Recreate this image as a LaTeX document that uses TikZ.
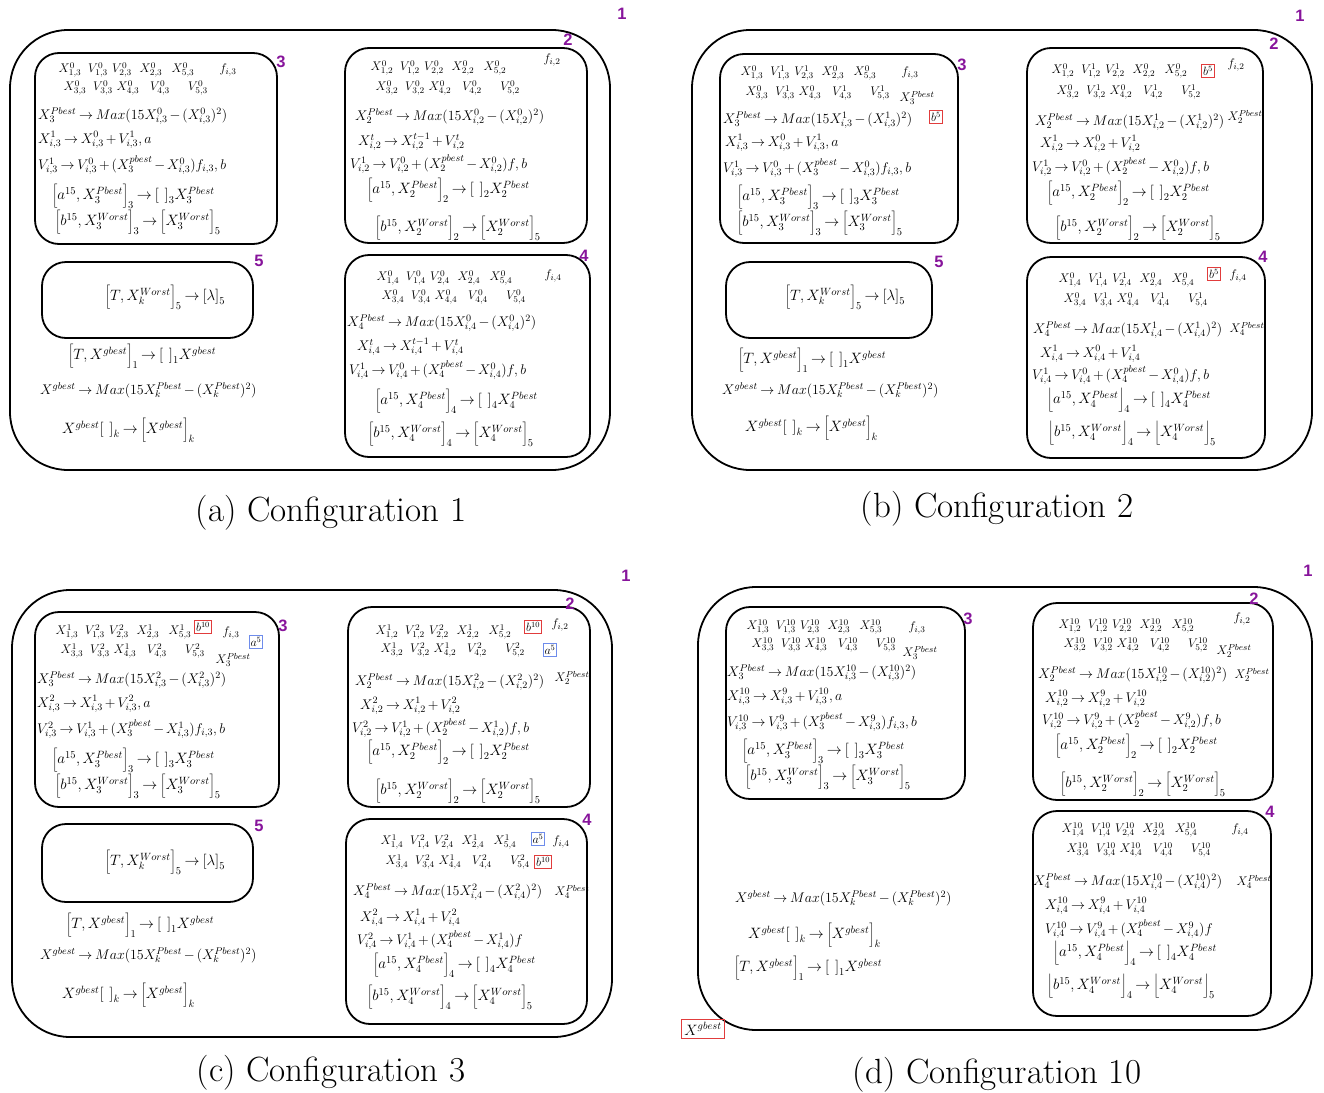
\RequirePackage{fix-cm}
\documentclass[tikz,border=0pt]{standalone}
\usepackage{fontspec}
\newfontfamily\tagfont{Liberation Sans}
\definecolor{tagpurple}{RGB}{135,20,155}
\definecolor{markred}{RGB}{225,60,60}
\definecolor{markblue}{RGB}{110,140,235}
\newcommand\tightmath{\medmuskip=2.5mu\thickmuskip=3.5mu}
\tikzset{
  panel/.style={draw, line width=1.8pt, rounded corners=58pt},
  cell/.style={draw, line width=1.8pt, rounded corners=24pt},
  sm/.style={inner sep=0pt, font=\fontsize{12.5}{14}\selectfont},
  eq/.style={anchor=west, inner sep=0pt, font=\fontsize{14}{16}\selectfont\tightmath},
  eqv/.style={anchor=west, inner sep=0pt, font=\fontsize{14}{16}\selectfont\tightmath},
  br/.style={anchor=west, inner sep=0pt, font=\fontsize{15}{18}\selectfont\tightmath},
  num/.style={inner sep=0pt, text=tagpurple, font=\tagfont\bfseries\fontsize{16.5}{18}\selectfont},
  captext/.style={inner sep=0pt, font=\fontsize{35}{40}\selectfont},
  redmark/.style={draw=markred, line width=1pt, inner sep=1.5pt, font=\fontsize{12}{14}\selectfont},
  bluemark/.style={draw=markblue, line width=1pt, inner sep=1.5pt, font=\fontsize{12}{14}\selectfont}
}
% two rows of particle positions / velocities of one swarm
% #1 prefix, #2 x of first entry, #3 y of row 1, #4 y of row 2, #5 swarm, #6 X iteration, #7 V iteration
\newcommand\smgrid[7]{%
  \foreach \dx/\t [count=\n] in {0/{X_{1,#5}^{#6}},28/{V_{1,#5}^{#7}},52/{V_{2,#5}^{#7}},81/{X_{2,#5}^{#6}},113/{X_{5,#5}^{#6}}}
    {\node[sm] (#1u\n) at ({#2+\dx},#3) {$\t$};}
  \foreach \dx/\t [count=\n] in {5/{X_{3,#5}^{#6}},33/{V_{3,#5}^{#7}},58/{X_{4,#5}^{#6}},90/{V_{4,#5}^{#7}},128/{V_{5,#5}^{#7}}}
    {\node[sm] (#1d\n) at ({#2+\dx},#4) {$\t$};}
}
\newcommand\pmove[3]{\bigg#2 a^{15}, X_{#1}^{Pbest}\bigg#3_{#1} \to \Big[\;\;\Big]_{#1} X_{#1}^{Pbest}}
\newcommand\wmove[3]{\bigg#2 b^{15}, X_{#1}^{Worst}\bigg#3_{#1} \to \bigg#2 X_{#1}^{Worst}\bigg#3_{5}}
\newcommand\tmove{\bigg[T, X_k^{Worst}\bigg]_5 \to \Big[\lambda\Big]_5}
\newcommand\gmove{\bigg[T, X^{gbest}\bigg]_1 \to \Big[\;\;\Big]_1 X^{gbest}}
\newcommand\gmax{X^{gbest} \to Max(15X_k^{Pbest} - (X_k^{Pbest})^2)}
\newcommand\gkeep{X^{gbest}\Big[\;\;\Big]_k \to \bigg[X^{gbest}\bigg]_k}
\newcommand\pmax[2]{X_{#1}^{Pbest} \to Max(15X_{i,#1}^{#2} - (X_{i,#1}^{#2})^2)}

\begin{document}
\begin{tikzpicture}[x=1pt,y=-1pt]
\useasboundingbox (0,0) rectangle (1324,1092);

% ================= Configuration 1 =================
\draw[panel] (10,30) rectangle (610,470);
\node[num] (a1) at (622,14) {1};
% swarm 3
\draw[cell] (35,53) rectangle (277,244);
\node[num] (a3n) at (281,62) {3};
\smgrid{a3}{70}{70}{88}{3}{0}{0}
\node[sm] (a3f) at (228,70) {$f_{i,3}$};
\node[eq] (a3l1) at (38,116) {$\pmax{3}{0}$};
\node[eq] (a3l2) at (38,140) {$X_{i,3}^{1} \to X_{i,3}^{0} + V_{i,3}^{1}, a$};
\node[eqv] (a3l3) at (38,165) {$V_{i,3}^{1} \to V_{i,3}^{0} + (X_3^{pbest} - X_{i,3}^{0}) f_{i,3}, b$};
\node[br] (a3l4) at (52,196) {$\pmove{3}{[}{]}$};
\node[br] (a3l5) at (55,222) {$\wmove{3}{[}{]}$};
% swarm 2
\draw[cell] (345,48) rectangle (587,243);
\node[num] (a2n) at (568,40) {2};
\smgrid{a2}{382}{68}{88}{2}{0}{0}
\node[sm] (a2f) at (552,60) {$f_{i,2}$};
\node[eq] (a2l1) at (355,117) {$\pmax{2}{0}$};
\node[eq] (a2l2) at (358,142) {$X_{i,2}^{t} \to X_{i,2}^{t-1} + V_{i,2}^{t}$};
\node[eqv] (a2l3) at (350,164) {$V_{i,2}^{1} \to V_{i,2}^{0} + (X_2^{pbest} - X_{i,2}^{0}) f, b$};
\node[br] (a2l4) at (367,190) {$\pmove{2}{[}{]}$};
\node[br] (a2l5) at (375,228) {$\wmove{2}{[}{]}$};
% swarm 5
\draw[cell] (42,262) rectangle (253,338);
\node[num] (a5n) at (259,261) {5};
\node[br, anchor=center] (a5l1) at (165,297) {$\tmove$};
\node[br] (ag1) at (68,356) {$\gmove$};
\node[eq] (ag2) at (40,390) {$\gmax$};
\node[br] (ag3) at (62,430) {$\gkeep$};
% swarm 4
\draw[cell] (345,255) rectangle (590,457);
\node[num] (a4n) at (584,256) {4};
\smgrid{a4}{388}{278}{297}{4}{0}{0}
\node[sm] (a4f) at (553,276) {$f_{i,4}$};
\node[eq] (a4l1) at (347,323) {$\pmax{4}{0}$};
\node[eq] (a4l2) at (357,347) {$X_{i,4}^{t} \to X_{i,4}^{t-1} + V_{i,4}^{t}$};
\node[eqv] (a4l3) at (349,370) {$V_{i,4}^{1} \to V_{i,4}^{0} + (X_4^{pbest} - X_{i,4}^{0}) f, b$};
\node[br] (a4l4) at (375,401) {$\pmove{4}{[}{]}$};
\node[br] (a4l5) at (368,434) {$\wmove{4}{[}{]}$};
\node[captext] (acap) at (331,513) {(a) Configuration 1};

% ================= Configuration 2 =================
\draw[panel] (692,30) rectangle (1312,470);
\node[num] (b1) at (1300,16) {1};
% swarm 3
\draw[cell] (720,54) rectangle (958,243);
\node[num] (b3n) at (962,65) {3};
\smgrid{b3}{752}{73}{93}{3}{0}{1}
\node[sm] (b3f) at (910,73) {$f_{i,3}$};
\node[sm] (b3p) at (917,98) {$X_3^{Pbest}$};
\node[redmark] (b3r) at (936,117) {$b^5$};
\node[eq] (b3l1) at (723,120) {$\pmax{3}{1}$};
\node[eq] (b3l2) at (725,143) {$X_{i,3}^{1} \to X_{i,3}^{0} + V_{i,3}^{1}, a$};
\node[eqv] (b3l3) at (723,168) {$V_{i,3}^{1} \to V_{i,3}^{0} + (X_3^{pbest} - X_{i,3}^{0}) f_{i,3}, b$};
\node[br] (b3l4) at (737,197) {$\pmove{3}{[}{]}$};
\node[br] (b3l5) at (737,223) {$\wmove{3}{[}{]}$};
% swarm 2
\draw[cell] (1027,48) rectangle (1263,243);
\node[num] (b2n) at (1274,44) {2};
\smgrid{b2}{1063}{71}{92}{2}{0}{1}
\node[sm] (b2f) at (1236,65) {$f_{i,2}$};
\node[redmark] (b2r) at (1208,71) {$b^5$};
\node[sm] (b2p) at (1245,117) {$X_2^{Pbest}$};
\node[eq] (b2l1) at (1035,122) {$\pmax{2}{1}$};
\node[eq] (b2l2) at (1040,144) {$X_{i,2}^{1} \to X_{i,2}^{0} + V_{i,2}^{1}$};
\node[eqv] (b2l3) at (1032,167) {$V_{i,2}^{1} \to V_{i,2}^{0} + (X_2^{pbest} - X_{i,2}^{0}) f, b$};
\node[br] (b2l4) at (1047,193) {$\pmove{2}{[}{]}$};
\node[br] (b2l5) at (1055,228) {$\wmove{2}{[}{]}$};
% swarm 5
\draw[cell] (726,262) rectangle (932,338);
\node[num] (b5n) at (939,262) {5};
\node[br, anchor=center] (b5l1) at (845,297) {$\tmove$};
\node[br] (bg1) at (738,360) {$\gmove$};
\node[eq] (bg2) at (722,390) {$\gmax$};
\node[br] (bg3) at (745,428) {$\gkeep$};
% swarm 4
\draw[cell] (1027,257) rectangle (1265,458);
\node[num] (b4n) at (1263,257) {4};
\smgrid{b4}{1070}{280}{300}{4}{0}{1}
\node[redmark] (b4r) at (1214,274) {$b^5$};
\node[sm] (b4f) at (1238,276) {$f_{i,4}$};
\node[sm] (b4p) at (1247,329) {$X_4^{Pbest}$};
\node[eq] (b4l1) at (1033,330) {$\pmax{4}{1}$};
\node[eq] (b4l2) at (1040,354) {$X_{i,4}^{1} \to X_{i,4}^{0} + V_{i,4}^{1}$};
\node[eqv] (b4l3) at (1032,375) {$V_{i,4}^{1} \to V_{i,4}^{0} + (X_4^{pbest} - X_{i,4}^{0}) f, b$};
\node[br] (b4l4) at (1047,400) {$\pmove{4}{\lfloor}{\rfloor}$};
\node[br] (b4l5) at (1048,433) {$\wmove{4}{\lfloor}{\rfloor}$};
\node[captext] (bcap) at (997,509) {(b) Configuration 2};

% ================= Configuration 3 =================
\draw[panel] (12,590) rectangle (612,1037);
\node[num] (c1) at (626,576) {1};
% swarm 3
\draw[cell] (35,612) rectangle (279,807);
\node[num] (c3n) at (283,626) {3};
\smgrid{c3}{67}{632}{651}{3}{1}{2}
\node[redmark] (c3r) at (203,627) {$b^{10}$};
\node[sm] (c3f) at (231,633) {$f_{i,3}$};
\node[bluemark] (c3b) at (256,642) {$a^5$};
\node[sm] (c3p) at (233,660) {$X_3^{Pbest}$};
\node[eq] (c3l1) at (37,680) {$\pmax{3}{2}$};
\node[eq] (c3l2) at (37,704) {$X_{i,3}^{2} \to X_{i,3}^{1} + V_{i,3}^{2}, a$};
\node[eqv] (c3l3) at (37,729) {$V_{i,3}^{2} \to V_{i,3}^{1} + (X_3^{pbest} - X_{i,3}^{1}) f_{i,3}, b$};
\node[br] (c3l4) at (52,760) {$\pmove{3}{[}{]}$};
\node[br] (c3l5) at (55,786) {$\wmove{3}{[}{]}$};
% swarm 2
\draw[cell] (348,607) rectangle (590,807);
\node[num] (c2n) at (570,604) {2};
\smgrid{c2}{387}{632}{650}{2}{1}{2}
\node[redmark] (c2r) at (533,627) {$b^{10}$};
\node[sm] (c2f) at (560,625) {$f_{i,2}$};
\node[bluemark] (c2b) at (550,650) {$a^5$};
\node[sm] (c2p) at (572,678) {$X_2^{Pbest}$};
\node[eq] (c2l1) at (355,682) {$\pmax{2}{2}$};
\node[eq] (c2l2) at (360,706) {$X_{i,2}^{2} \to X_{i,2}^{1} + V_{i,2}^{2}$};
\node[eqv] (c2l3) at (352,728) {$V_{i,2}^{2} \to V_{i,2}^{1} + (X_2^{pbest} - X_{i,2}^{1}) f, b$};
\node[br] (c2l4) at (367,752) {$\pmove{2}{[}{]}$};
\node[br] (c2l5) at (375,791) {$\wmove{2}{[}{]}$};
% swarm 5
\draw[cell] (42,824) rectangle (253,902);
\node[num] (c5n) at (259,826) {5};
\node[br, anchor=center] (c5l1) at (165,862) {$\tmove$};
\node[br] (cg1) at (66,925) {$\gmove$};
\node[eq] (cg2) at (40,955) {$\gmax$};
\node[br] (cg3) at (62,995) {$\gkeep$};
% swarm 4
\draw[cell] (346,819) rectangle (587,1024);
\node[num] (c4n) at (587,820) {4};
\smgrid{c4}{392}{842}{862}{4}{1}{2}
\node[bluemark] (c4b) at (538,839) {$a^5$};
\node[sm] (c4f) at (561,842) {$f_{i,4}$};
\node[redmark] (c4r) at (543,862) {$b^{10}$};
\node[sm] (c4p) at (572,892) {$X_4^{Pbest}$};
\node[eq] (c4l1) at (353,892) {$\pmax{4}{2}$};
\node[eq] (c4l2) at (360,918) {$X_{i,4}^{2} \to X_{i,4}^{1} + V_{i,4}^{2}$};
\node[eqv] (c4l3) at (357,940) {$V_{i,4}^{2} \to V_{i,4}^{1} + (X_4^{pbest} - X_{i,4}^{1}) f$};
\node[br] (c4l4) at (373,965) {$\pmove{4}{[}{]}$};
\node[br] (c4l5) at (367,997) {$\wmove{4}{[}{]}$};
\node[captext] (ccap) at (331,1073) {(c) Configuration 3};

% ================= Configuration 10 =================
\draw[panel] (698,587) rectangle (1312,1030);
\node[num] (d1) at (1308,571) {1};
% swarm 3
\draw[cell] (726,607) rectangle (965,799);
\node[num] (d3n) at (968,619) {3};
\smgrid{d3}{758}{627}{645}{3}{10}{10}
\node[sm] (d3f) at (917,628) {$f_{i,3}$};
\node[sm] (d3p) at (920,653) {$X_3^{Pbest}$};
\node[eq] (d3l1) at (727,673) {$\pmax{3}{10}$};
\node[eq] (d3l2) at (727,697) {$X_{i,3}^{10} \to X_{i,3}^{9} + V_{i,3}^{10}, a$};
\node[eqv] (d3l3) at (727,722) {$V_{i,3}^{10} \to V_{i,3}^{9} + (X_3^{pbest} - X_{i,3}^{9}) f_{i,3}, b$};
\node[br] (d3l4) at (742,751) {$\pmove{3}{[}{]}$};
\node[br] (d3l5) at (745,777) {$\wmove{3}{[}{]}$};
% swarm 2
\draw[cell] (1033,603) rectangle (1273,800);
\node[num] (d2n) at (1254,599) {2};
\smgrid{d2}{1070}{626}{645}{2}{10}{10}
\node[sm] (d2f) at (1242,619) {$f_{i,2}$};
\node[sm] (d2q) at (1234,651) {$X_2^{Pbest}$};
\node[sm] (d2p) at (1252,675) {$X_2^{Pbest}$};
\node[eq] (d2l1) at (1038,675) {$\pmax{2}{10}$};
\node[eq] (d2l2) at (1045,699) {$X_{i,2}^{10} \to X_{i,2}^{9} + V_{i,2}^{10}$};
\node[eqv] (d2l3) at (1042,720) {$V_{i,2}^{10} \to V_{i,2}^{9} + (X_2^{pbest} - X_{i,2}^{9}) f, b$};
\node[br] (d2l4) at (1055,746) {$\pmove{2}{[}{]}$};
\node[br] (d2l5) at (1060,784) {$\wmove{2}{[}{]}$};
% global best
\node[eq] (dg2) at (735,898) {$\gmax$};
\node[br] (dg3) at (748,935) {$\gkeep$};
\node[br] (dg1) at (734,968) {$\gmove$};
\node[draw=markred, line width=1.4pt, inner sep=3pt, font=\fontsize{15}{17}\selectfont] (dgx) at (703,1029) {$X^{gbest}$};
% swarm 4
\draw[cell] (1033,811) rectangle (1271,1016);
\node[num] (d4n) at (1270,812) {4};
\smgrid{d4}{1073}{830}{850}{4}{10}{10}
\node[sm] (d4f) at (1240,830) {$f_{i,4}$};
\node[sm] (d4p) at (1254,882) {$X_4^{Pbest}$};
\node[eq] (d4l1) at (1033,882) {$\pmax{4}{10}$};
\node[eq] (d4l2) at (1045,906) {$X_{i,4}^{10} \to X_{i,4}^{9} + V_{i,4}^{10}$};
\node[eqv] (d4l3) at (1045,929) {$V_{i,4}^{10} \to V_{i,4}^{9} + (X_4^{pbest} - X_{i,4}^{9}) f$};
\node[br] (d4l4) at (1053,953) {$\pmove{4}{\lfloor}{\rfloor}$};
\node[br] (d4l5) at (1047,986) {$\wmove{4}{\lfloor}{\rfloor}$};
\node[captext] (dcap) at (997,1075) {(d) Configuration 10};
\end{tikzpicture}
\end{document}
